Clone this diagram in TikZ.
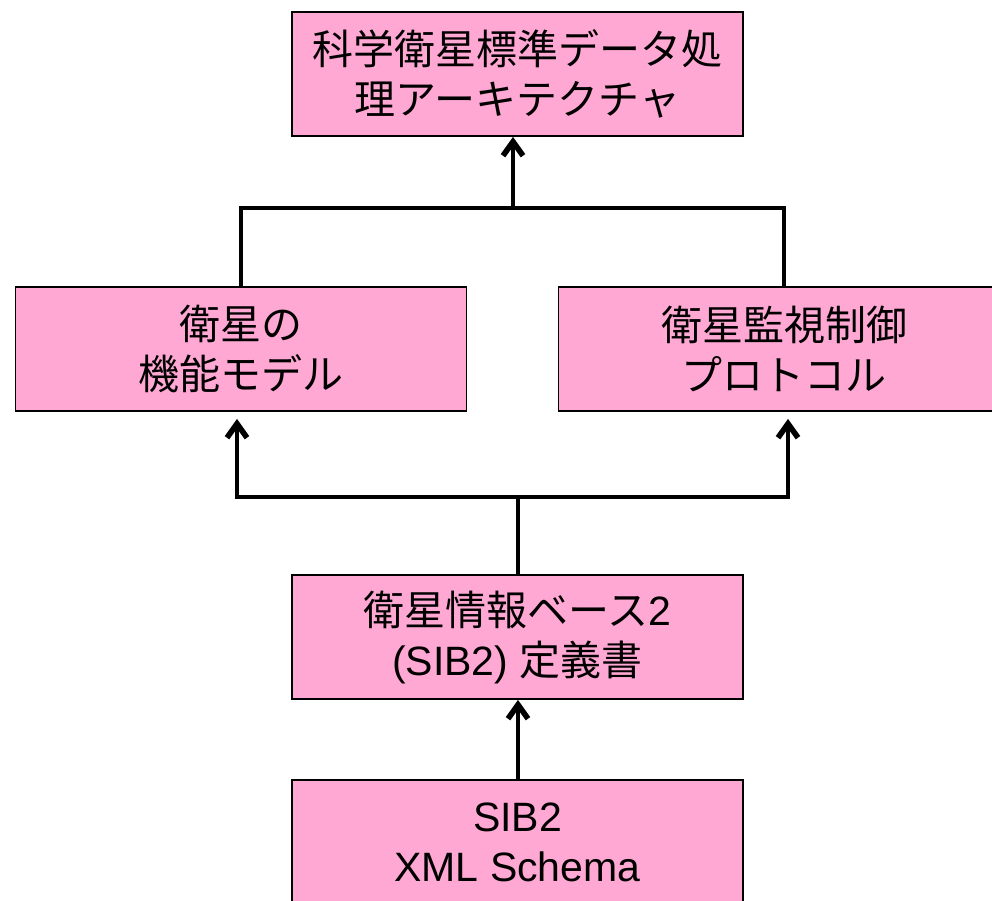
\documentclass[tikz,border=0pt]{standalone}
\usepackage{fontspec}
\setmainfont{Liberation Sans}
\newfontfamily\jp{Noto Sans CJK JP}
\usetikzlibrary{arrows.meta}
\definecolor{boxpink}{HTML}{FFA8D4}
\tikzset{
  box/.style={draw=black, line width=1.8pt, fill=boxpink, minimum width=451pt,
    minimum height=124pt, inner sep=0pt, align=center,
    font=\fontsize{41}{50}\selectfont},
  conn/.style={line width=4pt, line cap=rect},
  arr/.style={conn, -{Straight Barb[length=14pt, width=20pt, line width=0pt 1.4]}}
}
\begin{document}
\begin{tikzpicture}[x=1pt, y=-1pt]
\useasboundingbox (0,0) rectangle (992,900);

% boxes
\node[box] (top)   at (517.5,74)  {{\jp 科学衛星標準データ処}\\{\jp 理アーキテクチャ}};
\node[box] (left)  at (241,349)   {{\jp 衛星の}\\{\jp 機能モデル}};
\node[box] (right) at (784,349)   {{\jp 衛星監視制御}\\{\jp プロトコル}};
\node[box] (sib)   at (517.5,637) {{\jp 衛星情報ベース}2\\(SIB2) {\jp 定義書}};
\node[box] (xml)   at (517.5,842) {SIB2\\XML Schema};

% junction points of the branching connectors
\coordinate (jtop) at (513,208);
\coordinate (jmid) at (518,497);

% upper branch: both models feed the architecture
\draw[conn] (left.north) |- (jtop);
\draw[conn] (right.north) |- (jtop);
\draw[arr] (jtop) -- (jtop |- top.south);

% lower branch: the SIB2 definition feeds both models
\draw[conn] (sib.north -| jmid) -- (jmid);
\draw[arr, shorten >=7pt] (jmid) -| ([xshift=-4pt]left.south);
\draw[arr, shorten >=7pt] (jmid) -| ([xshift=4pt]right.south);

% schema to definition
\draw[arr] (xml.north -| jmid) -- (sib.south -| jmid);
\end{tikzpicture}
\end{document}
